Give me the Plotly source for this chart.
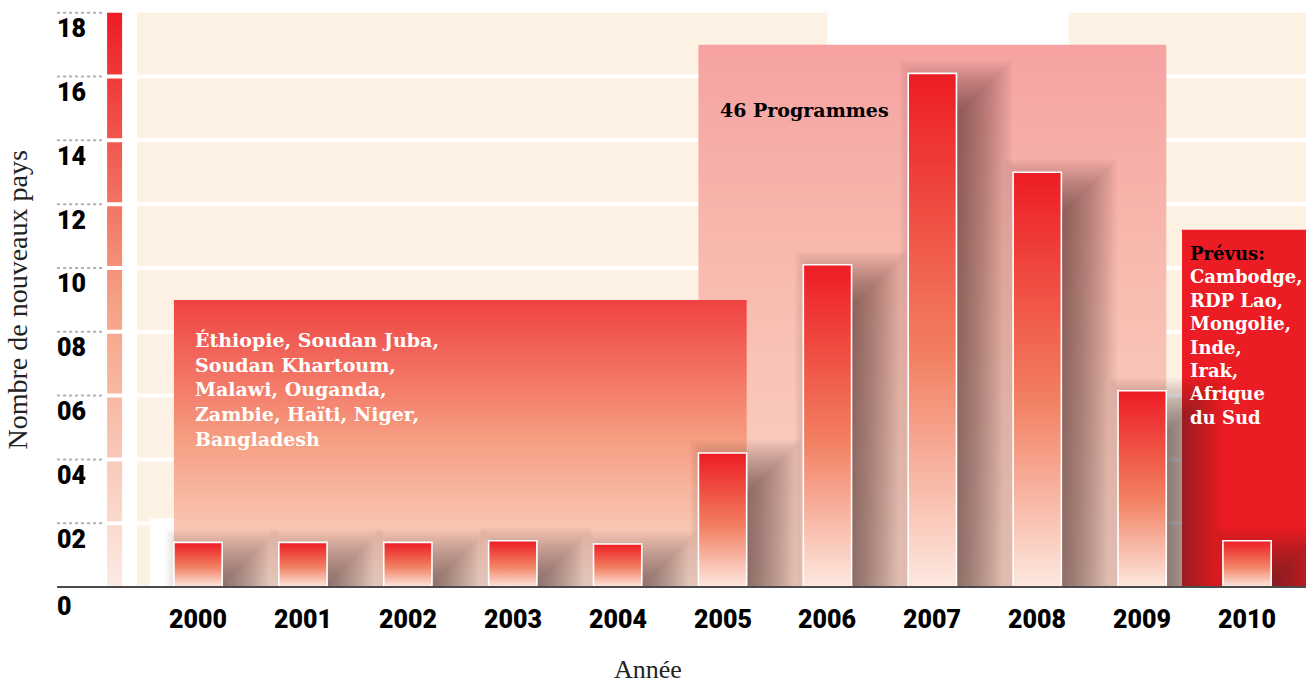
import plotly.graph_objects as go

# ---- data -------------------------------------------------------------
years = ["2000", "2001", "2002", "2003", "2004", "2005",
         "2006", "2007", "2008", "2009", "2010"]
new_countries = [1.4, 1.4, 1.4, 1.45, 1.35, 4.2, 10.1, 16.1, 13.0, 6.15, 1.45]

y_ticks = [2, 4, 6, 8, 10, 12, 14, 16, 18]
y_tick_labels = ["02", "04", "06", "08", "10", "12", "14", "16", "18"]

programmes_label = "46 Programmes"
first_wave = ["Éthiopie, Soudan Juba,", "Soudan Khartoum,", "Malawi, Ouganda,",
              "Zambie, Haïti, Niger,", "Bangladesh"]
planned_title = "Prévus:"
planned = ["Cambodge,", "RDP Lao,", "Mongolie,", "Inde,", "Irak,",
           "Afrique", "du Sud"]

x_title = "Année"
y_title = "Nombre de nouveaux pays"

# ---- layout constants -------------------------------------------------
X_RANGE = [-1.888, 10.562]
Y_RANGE = [-3.04, 18.40]
HW = 0.23            # half bar width (category units)
X_END = 10.7
RED = "rgb(237,28,36)"

BAR_SCALE = [[0, "rgb(253,232,224)"], [0.45, "rgb(242,128,98)"], [1, RED]]
STRIP_SCALE = [[0, "rgb(252,234,228)"], [0.5, "rgb(245,160,130)"], [1, RED]]
FIRST_BOX_SCALE = [[0, "rgb(251,224,212)"], [0.5, "rgb(246,160,132)"], [1, "rgb(239,66,66)"]]
PINK_BOX_SCALE = [[0, "rgb(249,214,200)"], [0.6, "rgb(248,186,174)"], [1, "rgb(246,162,162)"]]

FONT_NUM = dict(family="Roboto", size=25, color="black", weight=900)
FONT_NOTE = dict(family="DejaVu Serif", size=19, color="white", weight="bold")
FONT_TITLE = dict(family="Liberation Serif", size=26, color="#222")


def rect(x0, x1, y0, y1):
    return [x0, x1, x1, x0, x0], [y0, y0, y1, y1, y0]


fig = go.Figure()


def add_fill(x0, x1, y0, y1, color=None, scale=None, line=None):
    xs, ys = rect(x0, x1, y0, y1)
    kw = dict(x=xs, y=ys, mode="lines", fill="toself", hoverinfo="skip",
              showlegend=False,
              line=line or dict(width=0, color="rgba(0,0,0,0)"))
    if scale is not None:
        kw["fillgradient"] = dict(type="vertical", colorscale=scale,
                                  start=y0, stop=y1)
    else:
        kw["fillcolor"] = color
    fig.add_trace(go.Scatter(**kw))


# background panels
add_fill(-0.582, X_END, 0, 18, color="rgb(253,241,227)")
add_fill(6.0, 8.3, 16.9, 18.4, color="white")
add_fill(-0.46, -0.23, 0, 2.15, color="white")

# left colour strip standing in for the value scale
add_fill(-0.867, -0.724, 0, 18, scale=STRIP_SCALE)

# white gaps between the background bands
for t in y_ticks[:-1]:
    fig.add_trace(go.Scatter(x=[-0.95, X_END], y=[t, t], mode="lines",
                             line=dict(color="white", width=4),
                             hoverinfo="skip", showlegend=False))

# annotation panels
add_fill(5 - HW, 9 + HW, 0, 17.0, scale=PINK_BOX_SCALE)
add_fill(0 - HW, 5 + HW, 0, 9.0, scale=FIRST_BOX_SCALE)
add_fill(9.38, X_END, 0, 11.2, color="rgb(236,28,36)")

# soft drop shadows behind the bars (stacked translucent layers)
N_LAYERS = 26
BLUR_X, BLUR_Y = 0.28, 0.9
for i, v in enumerate(new_countries):
    bx0, bx1 = i - HW + 0.2, i + HW + 0.25
    by1 = v - 0.5
    for k in range(N_LAYERS):
        e = 1 - 2 * k / (N_LAYERS - 1)
        add_fill(bx0 - BLUR_X * e, bx1 + BLUR_X * e,
                 0, max(0.05, by1 + BLUR_Y * e),
                 color="rgba(60,45,45,0.032)")

# bars with vertical gradient
for i, v in enumerate(new_countries):
    add_fill(i - HW, i + HW, 0, v, scale=BAR_SCALE,
             line=dict(color="white", width=1.6))

# baseline
fig.add_trace(go.Scatter(x=[-1.344, X_END], y=[0, 0], mode="lines",
                         line=dict(color="#4a4a4a", width=2),
                         hoverinfo="skip", showlegend=False))

# dotted tick rules
for t in y_ticks:
    fig.add_trace(go.Scatter(x=[-1.344, -0.886], y=[t, t], mode="lines",
                             line=dict(color="#b0b0b0", width=2, dash="dot"),
                             hoverinfo="skip", showlegend=False))

annotations = []
for t, lab in zip(y_ticks, y_tick_labels):
    annotations.append(dict(x=-1.36, y=t - 0.5, text=lab, xanchor="left",
                            yanchor="middle", showarrow=False, font=FONT_NUM))
annotations.append(dict(x=-1.36, y=-0.6, text="0", xanchor="left",
                        yanchor="middle", showarrow=False, font=FONT_NUM))
for i, yr in enumerate(years):
    annotations.append(dict(x=i, y=-1.03, text=yr, xanchor="center",
                            yanchor="middle", showarrow=False, font=FONT_NUM))

annotations.append(dict(x=-0.05, y=8.15, text="<br>".join(first_wave),
                        xanchor="left", yanchor="top", align="left",
                        showarrow=False, font=FONT_NOTE))
annotations.append(dict(x=4.957, y=14.95, text=programmes_label,
                        xanchor="left", yanchor="middle", showarrow=False,
                        font=dict(FONT_NOTE, color="black")))
annotations.append(dict(x=9.43, y=10.85,
                        text="<span style='color:black'>" + planned_title + "</span><br>"
                        + "<br>".join(planned),
                        xanchor="left", yanchor="top", align="left",
                        showarrow=False, font=dict(FONT_NOTE, size=18)))

annotations.append(dict(x=4.29, y=-2.6, text=x_title, xanchor="center",
                        yanchor="middle", showarrow=False, font=FONT_TITLE))
annotations.append(dict(x=-1.72, y=9.0, text=y_title, xanchor="center",
                        yanchor="middle", textangle=-90, showarrow=False,
                        font=dict(FONT_TITLE, size=28)))

fig.update_layout(
    width=1306, height=684, autosize=False,
    margin=dict(l=0, r=0, t=0, b=0),
    paper_bgcolor="white", plot_bgcolor="white",
    xaxis=dict(range=X_RANGE, visible=False, fixedrange=True),
    yaxis=dict(range=Y_RANGE, visible=False, fixedrange=True),
    annotations=annotations,
    showlegend=False,
)

fig.write_html("out.html")
